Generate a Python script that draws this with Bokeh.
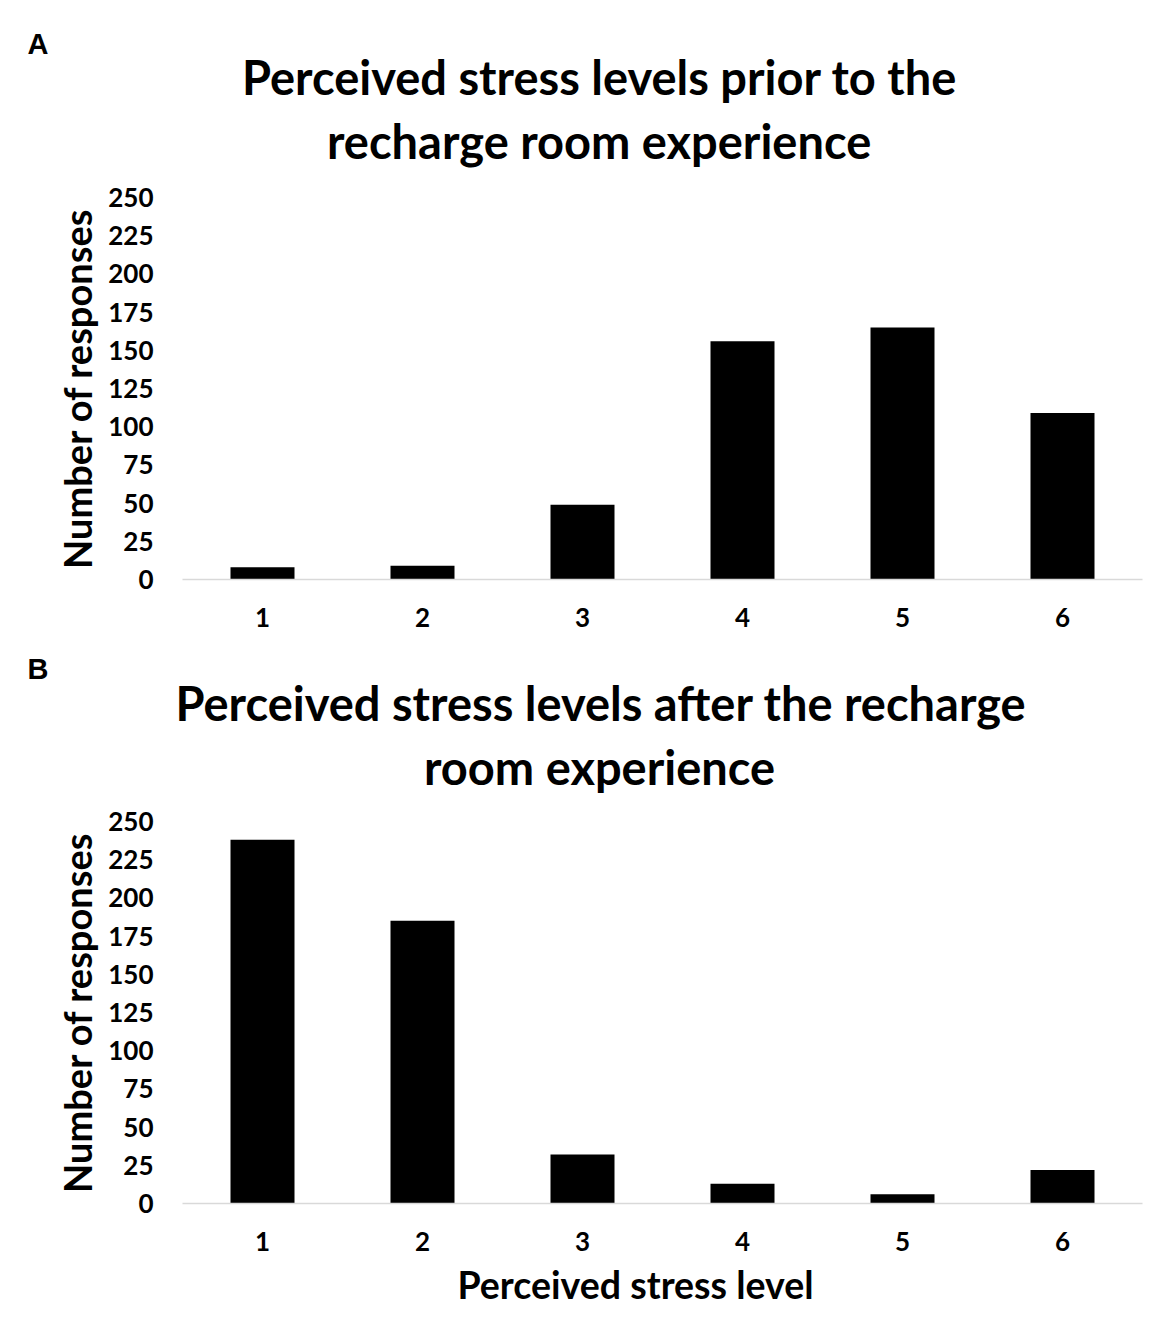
from bokeh.plotting import figure
from bokeh.models import FactorRange, Range1d, FixedTicker, ColumnDataSource, Title
from bokeh.layouts import column
from bokeh.embed import file_html
from bokeh.resources import INLINE

levels = ["1", "2", "3", "4", "5", "6"]
before_counts = [8, 9, 49, 156, 165, 109]
after_counts = [238, 185, 32, 13, 6, 22]
y_ticks = [0, 25, 50, 75, 100, 125, 150, 175, 200, 225, 250]

title_a = ["Perceived stress levels prior to the", "recharge room experience"]
title_b = ["Perceived stress levels after the recharge", "room experience"]
y_title = "Number of responses"
x_title = "Perceived stress level"

FONT = "Lato"
W = 1163
LEFT = 182
FW, FH = 960, 382

# approximate text-box metrics (height, descent) used to place the titles
H47, D47 = 54.0, 9.5
H28, D28 = 33.0, 11.2
H38, D38 = 43.0, 7.6
AXIS_H = 58.0


def add_titles(p, frame_top, letter, lines, offsets, baselines, letter_base):
    s2 = 2 * (frame_top - 2 - D47 - baselines[1])
    top2 = frame_top - (2 + H47 + s2)
    s1 = 2 * (top2 - 2 - D47 - baselines[0])
    top1 = top2 - (2 + H47 + s1)
    sl = 2 * (top1 - 2 - D28 - letter_base)
    common = dict(text_font=FONT, text_font_style="bold", text_color="black",
                  align="left", vertical_align="top")
    p.add_layout(Title(text=lines[1], offset=offsets[1], standoff=s2,
                       text_font_size="47px", **common), "above")
    p.add_layout(Title(text=lines[0], offset=offsets[0], standoff=s1,
                       text_font_size="47px", **common), "above")
    p.add_layout(Title(text=letter, offset=27 - LEFT, standoff=sl,
                       text_font="Liberation Sans", text_font_style="bold",
                       text_color="black", text_font_size="29px",
                       align="left", vertical_align="top"), "above")


def make_panel(counts, height, top, bottom):
    p = figure(x_range=FactorRange(factors=levels), y_range=Range1d(0, 250),
               width=W, height=height, output_backend="svg", toolbar_location=None,
               min_border_left=LEFT, min_border_right=W - LEFT - FW, min_border_top=top,
               min_border_bottom=bottom)
    src = ColumnDataSource(dict(x=levels, top=counts))
    p.vbar(x="x", top="top", width=0.4, source=src, fill_color="#000000", line_color=None)
    p.xgrid.visible = False
    p.ygrid.visible = False
    p.outline_line_color = None

    ya = p.yaxis[0]
    ya.ticker = FixedTicker(ticks=y_ticks)
    ya.axis_line_color = None
    ya.major_tick_line_color = None
    ya.minor_tick_line_color = None
    ya.major_tick_out = 0
    ya.major_tick_in = 0
    ya.minor_tick_out = 0
    ya.major_label_standoff = 29
    ya.major_label_text_font = FONT
    ya.major_label_text_font_style = "bold"
    ya.major_label_text_font_size = "26px"
    ya.major_label_text_color = "black"
    ya.axis_label = y_title
    ya.axis_label_text_font = FONT
    ya.axis_label_text_font_style = "bold"
    ya.axis_label_text_font_size = "38px"
    ya.axis_label_text_color = "black"
    ya.axis_label_standoff = 5

    xa = p.xaxis[0]
    xa.axis_line_color = "#d9d9d9"
    xa.axis_line_width = 1.3
    xa.major_tick_line_color = None
    xa.minor_tick_line_color = None
    xa.major_tick_out = 0
    xa.major_tick_in = 0
    xa.major_label_standoff = 28
    xa.major_label_text_font = FONT
    xa.major_label_text_font_style = "bold"
    xa.major_label_text_font_size = "26px"
    xa.major_label_text_color = "black"
    return p


# panel A occupies page y 0..641, frame 197..579
pa = make_panel(before_counts, 197 + FH + 62, 197, 62)
add_titles(pa, 197, "A", title_a, [59.5, 144.5], [97, 159], 53)

# panel B starts at page y 641, frame 821..1203
B0 = 197 + FH + 62
tb = 821 - B0
PB_BOTTOM = 1325 - 821 - FH
pb = make_panel(after_counts, tb + FH + PB_BOTTOM, tb, PB_BOTTOM)
add_titles(pb, tb, "B", title_b, [-7, 241.5], [723 - B0, 785 - B0], 678 - B0)

# x-axis title of panel B, placed below the axis
xt_top = tb + FH + AXIS_H
sx = 2 * ((1299 - B0) - xt_top - (H38 - D38)) + 12
pb.add_layout(Title(text=x_title, offset=457 - LEFT, standoff=sx, text_font=FONT,
                    text_font_style="bold", text_color="black", text_font_size="37.5px",
                    align="left", vertical_align="top"), "below")

layout = column(pa, pb)
open("out.html", "w").write(file_html(layout, INLINE))
